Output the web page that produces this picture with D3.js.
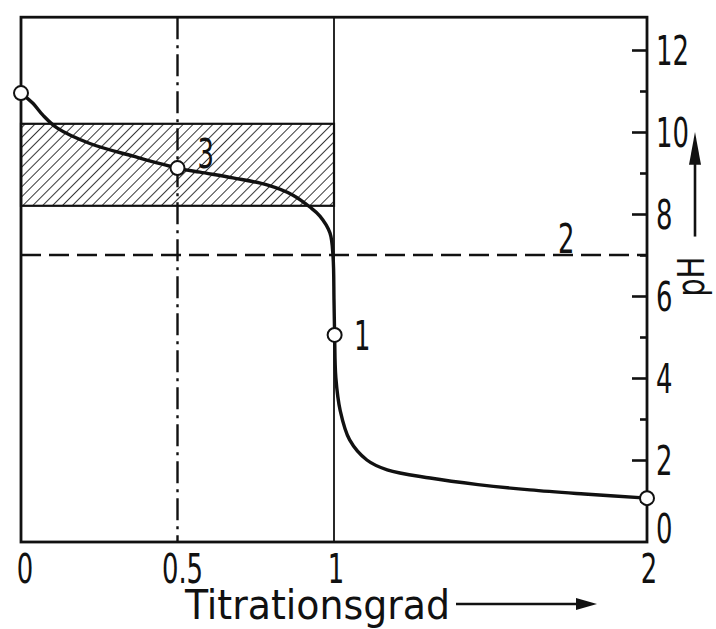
<!DOCTYPE html>
<html>
<head>
<meta charset="utf-8">
<script src="https://cdn.jsdelivr.net/npm/d3@7"></script>
<style>
  html, body { margin: 0; padding: 0; background: #fff; }
  svg { display: block; }
  text { font-family: "DejaVu Sans Condensed", "DejaVu Sans", sans-serif; fill: #111; }
</style>
</head>
<body>
<svg id="chart" width="716" height="629"></svg>
<script>
// ---- data ----
const titrationGrad = [0, 0.038, 0.07, 0.115, 0.22, 0.358, 0.5, 0.572, 0.677, 0.786, 0.869, 0.923, 0.955, 0.987, 0.997, 1.0, 1.002, 1.006, 1.02, 1.05, 1.105, 1.17, 1.307, 1.46, 1.626, 1.8, 2.0];
const pHValues      = [10.95, 10.7, 10.41, 10.1, 9.72, 9.41, 9.12, 9.02, 8.88, 8.71, 8.46, 8.17, 7.95, 7.54, 6.95, 5.9, 5.05, 4.0, 3.2, 2.49, 2.0, 1.76, 1.56, 1.4, 1.27, 1.17, 1.07];
const markerX = [0, 0.5, 1.002, 2.0];
const markerY = [10.95, 9.12, 5.05, 1.07];
const pointLabels = ["3", "1"];
const pointLabelX = [0.5, 1.0];
const pointLabelY = [9.5, 5.05];
const neutralPH = 7;            // line 2
const neutralLabel = "2";
const bufferRange = [8.2, 10.2]; // hatched buffer region
const bufferX = [0, 1];
const xTicks = [0, 0.5, 1, 2];
const xTickLabels = ["0", "0.5", "1", "2"];
const yMajorTicks = [0, 2, 4, 6, 8, 10, 12];
const yMinorTicks = [1, 3, 5, 7, 9, 11];
const xTitle = "Titrationsgrad";
const yTitle = "pH";
const yTop = 12.8;

// ---- scales ----
const svg = d3.select("#chart");
const x = d3.scaleLinear().domain([0, 2]).range([21, 647]);
const y = d3.scaleLinear().domain([0, 12]).range([542, 50]);

function narrowText(g, px, py, str, anchor, size) {
  return g.append("text")
    .attr("transform", `translate(${px},${py}) scale(0.72,1)`)
    .attr("text-anchor", anchor || "start")
    .attr("font-size", size || 40)
    .text(str);
}

const defs = svg.append("defs");
const pat = defs.append("pattern")
  .attr("id", "hatch").attr("patternUnits", "userSpaceOnUse")
  .attr("width", 7).attr("height", 7)
  .attr("patternTransform", "rotate(45)");
pat.append("line").attr("x1", 0).attr("y1", 0).attr("x2", 0).attr("y2", 7)
  .attr("stroke", "#222").attr("stroke-width", 1.8);

// hatched buffer region
svg.append("rect")
  .attr("x", x(bufferX[0])).attr("y", y(bufferRange[1]))
  .attr("width", x(bufferX[1]) - x(bufferX[0]))
  .attr("height", y(bufferRange[0]) - y(bufferRange[1]))
  .attr("fill", "url(#hatch)")
  .attr("stroke", "#111").attr("stroke-width", 2.2);

// vertical dash-dot at 0.5
svg.append("line")
  .attr("x1", x(0.5)).attr("x2", x(0.5))
  .attr("y1", y(yTop)).attr("y2", y(0))
  .attr("stroke", "#111").attr("stroke-width", 2.4)
  .attr("stroke-dasharray", "22 6 3 6");

// vertical solid at 1
svg.append("line")
  .attr("x1", x(1)).attr("x2", x(1))
  .attr("y1", y(yTop)).attr("y2", y(0))
  .attr("stroke", "#111").attr("stroke-width", 1.8);

// dashed neutral line
svg.append("line")
  .attr("x1", x(0)).attr("x2", x(2))
  .attr("y1", y(neutralPH)).attr("y2", y(neutralPH))
  .attr("stroke", "#111").attr("stroke-width", 2.6)
  .attr("stroke-dasharray", "20 8");

// frame
svg.append("rect")
  .attr("x", x(0)).attr("y", y(yTop))
  .attr("width", x(2) - x(0)).attr("height", y(0) - y(yTop))
  .attr("fill", "none").attr("stroke", "#111").attr("stroke-width", 2.8);

// right axis ticks
const axisR = d3.axisLeft(y).tickValues(yMajorTicks.filter(d => d > 0)).tickSize(15).tickFormat("");
const gR = svg.append("g").attr("transform", `translate(${x(2)},0)`).call(axisR);
gR.select(".domain").remove();
gR.selectAll("line").attr("stroke", "#111").attr("stroke-width", 2.6);
const axisRm = d3.axisLeft(y).tickValues(yMinorTicks).tickSize(7).tickFormat("");
const gRm = svg.append("g").attr("transform", `translate(${x(2)},0)`).call(axisRm);
gRm.select(".domain").remove();
gRm.selectAll("line").attr("stroke", "#111").attr("stroke-width", 2.6);

// right tick labels
const gRL = svg.append("g");
yMajorTicks.forEach(d => {
  narrowText(gRL, x(2) + 9, y(d) + 14.5 + (d === 0 ? -14 : 0), String(d), "start", 40);
});

// bottom tick labels
const gBL = svg.append("g");
xTicks.forEach((d, i) => {
  narrowText(gBL, x(d) + (d === 0.5 ? 5 : d === 0 ? 4 : 2), 583, xTickLabels[i], "middle", 40);
});

// x title + arrow
svg.append("text").attr("x", 185).attr("y", 619).attr("font-size", 41)
  .attr("textLength", 265).attr("lengthAdjust", "spacingAndGlyphs").text(xTitle);
svg.append("line").attr("x1", 456).attr("x2", 580).attr("y1", 604).attr("y2", 604)
  .attr("stroke", "#111").attr("stroke-width", 2.6);
svg.append("path").attr("d", "M576,598 L597,604 L576,610 Z").attr("fill", "#111");

// y title + arrow
svg.append("text")
  .attr("transform", `translate(704,${y(5.98)}) rotate(-90) scale(0.85,1)`)
  .attr("font-size", 38).text(yTitle);
svg.append("line").attr("x1", 695).attr("x2", 695).attr("y1", y(7.45)).attr("y2", y(9.6))
  .attr("stroke", "#111").attr("stroke-width", 2.6);
svg.append("path").attr("d", `M689,${y(9.2)} L695,${y(10.0)} L701,${y(9.2)} Z`).attr("fill", "#111");

// curve
const pts = titrationGrad.map((v, i) => [v, pHValues[i]]);
svg.append("path").datum(pts)
  .attr("d", d3.line().x(d => x(d[0])).y(d => y(d[1])).curve(d3.curveCatmullRom.alpha(0.5)))
  .attr("fill", "none").attr("stroke", "#111").attr("stroke-width", 3.4);

// markers
svg.append("g").selectAll("circle").data(markerX).join("circle")
  .attr("cx", d => x(d)).attr("cy", (d, i) => y(markerY[i])).attr("r", 7)
  .attr("fill", "#fff").attr("stroke", "#111").attr("stroke-width", 2);

// point labels
const gPL = svg.append("g");
pointLabels.forEach((t, i) => {
  narrowText(gPL, x(pointLabelX[i]) + 20, y(pointLabelY[i]) + 15, t, "start", 40);
});

// label 2 on neutral line
narrowText(svg, 558, y(neutralPH) - 2, neutralLabel, "start", 40);
</script>
</body>
</html>
